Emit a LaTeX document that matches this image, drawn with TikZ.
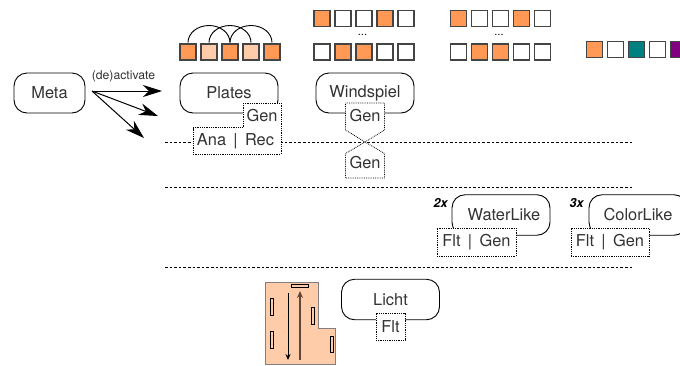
\documentclass[tikz,border=0pt]{standalone}
\usepackage{fontspec}
\setmainfont{TeX Gyre Heros}
\usetikzlibrary{arrows.meta,positioning}
\definecolor{orangeS}{HTML}{FF9955}
\definecolor{peachS}{HTML}{FFCCAA}
\definecolor{tealS}{HTML}{008080}
\definecolor{purpleS}{HTML}{800080}
\definecolor{inkT}{HTML}{333333}
\definecolor{edgeS}{HTML}{444444}
\definecolor{upS}{HTML}{664433}
\newcommand{\bodyfont}{\fontsize{16.4}{18}\selectfont}
\tikzset{
  cell/.style={draw=edgeS,line width=1.2pt,minimum size=16pt,inner sep=0pt,outer sep=0pt,fill=white},
  comp/.style={draw=black,line width=0.9pt,rounded corners=13pt,fill=white,minimum height=40pt,inner sep=0pt,outer sep=0pt,text=inkT,font=\bodyfont},
  label/.style={inner sep=0pt,text=inkT,font=\bodyfont},
  dotbox/.style={draw=black,densely dotted,line width=0.8pt,fill=white},
  sep/.style={draw=black,line width=0.8pt,dash pattern=on 2.6pt off 2pt},
  fire/.style={-{Stealth[length=19pt,width=12pt,inset=6pt]},line width=1pt,black},
  hop/.style={draw=black,line width=0.9pt},
  lamp/.style={draw=black,line width=0.7pt,fill=peachS},
  mult/.style={inner sep=0pt,font=\fontsize{12.5}{14}\selectfont\bfseries\itshape}
}
\begin{document}
\begin{tikzpicture}[x=1pt,y=-1pt]
\useasboundingbox (0,0) rectangle (680,365);
\clip (0,0) rectangle (680,365);

% separators
\coordinate (s1a) at (165,142.5); \coordinate (s1b) at (632,142.5);
\coordinate (s2a) at (165,187); \coordinate (s2b) at (632,187);
\coordinate (s3a) at (165,267); \coordinate (s3b) at (632,267);
\draw[sep] (s1a) -- (s1b);
\draw[sep] (s2a) -- (s2b);
\draw[sep] (s3a) -- (s3b);

% Plates cells
\foreach \i/\x/\c in {1/188/orangeS,2/209/peachS,3/230/orangeS,4/251/peachS,5/272/orangeS}
  \node[cell,fill=\c] (p\i) at (\x,52) {};
\draw[hop] ([yshift=1.5pt]p1.north) arc[start angle=180,end angle=0,x radius=21pt,y radius=17pt];
\draw[hop] ([yshift=1.5pt]p2.north) arc[start angle=180,end angle=0,x radius=21pt,y radius=17pt];
\draw[hop] ([yshift=1.5pt]p3.north) arc[start angle=180,end angle=0,x radius=21pt,y radius=17pt];

% Windspiel cells
\foreach \i/\x/\c in {1/322/orangeS,2/343/white,3/364/white,4/385/orangeS,5/406/white}
  \node[cell,fill=\c] (wa\i) at (\x,18.8) {};
\foreach \i/\x/\c in {1/322/white,2/343/orangeS,3/364/orangeS,4/385/white,5/406/white}
  \node[cell,fill=\c] (wb\i) at (\x,52) {};
\foreach \i/\x/\c in {1/458.5/orangeS,2/479.5/white,3/500.5/white,4/521.5/orangeS,5/542.5/white}
  \node[cell,fill=\c] (xa\i) at (\x,18.8) {};
\foreach \i/\x/\c in {1/458.5/white,2/479.5/orangeS,3/500.5/orangeS,4/521.5/white,5/542.5/white}
  \node[cell,fill=\c] (xb\i) at (\x,52) {};
\foreach \i/\x/\c in {1/594.5/orangeS,2/615.5/white,3/636.5/tealS,4/657.5/white,5/678.5/purpleS}
  \node[cell,fill=\c] (c\i) at (\x,49.5) {};
\node[inner sep=0pt,font=\fontsize{11}{11}\selectfont] (d1) at (362.5,35) {...};
\node[inner sep=0pt,font=\fontsize{11}{11}\selectfont] (d2) at (499,35) {...};

% Meta
\node[comp,minimum width=71pt] (meta) at (49.5,93) {Meta};
\coordinate (src) at (92,91);
\coordinate (t1) at (162,91);
\coordinate (t2) at (158,116);
\coordinate (t3) at (144,138);
\draw[fire] (src) -- (t1);
\draw[fire] (src) -- (t2);
\draw[fire] (src) -- (t3);
\node[inner sep=0pt,text=inkT,font=\fontsize{12.2}{14}\selectfont] (act) at (123.5,76) {(de)activate};

% Plates
\node[comp,minimum width=98pt] (plates) at (229,93) {Plates};
\draw[dotbox] (243,103) -- (281,103) -- (281,154) -- (193,154) -- (193,127.5) -- (243,127.5) -- cycle;
\node[label] (pgen) at (262,116) {Gen};
\node[label] (pana) at (235.5,141.5) {Ana \,|\, Rec};

% Windspiel
\node[comp,minimum width=98pt] (wind) at (365,93) {Windspiel};
\draw[dotbox] (345.5,103) -- (384.5,103) -- (384.5,130) -- (365,142) -- (345.5,130) -- cycle;
\draw[dotbox] (365,142) -- (384.5,153.5) -- (384.5,178) -- (345.5,178) -- (345.5,153.5) -- cycle;
\node[label] (wgen) at (365,116) {Gen};
\node[label] (wgen2) at (365,163) {Gen};

% WaterLike
\node[comp,minimum width=98pt,minimum height=40.5pt] (water) at (501,215) {\hspace*{6pt}WaterLike};
\node[dotbox,minimum width=79pt,minimum height=28pt,inner sep=0pt,text=inkT,font=\bodyfont] (wbox) at (476.5,242) {Flt \,|\, Gen};
\node[mult] (two) at (440.5,203) {2x};

% ColorLike
\node[comp,minimum width=98pt,minimum height=40.5pt] (color) at (638,215) {ColorLike};
\node[dotbox,minimum width=78pt,minimum height=28pt,inner sep=0pt,text=inkT,font=\bodyfont] (cbox) at (610,242) {Flt \,|\, Gen};
\node[mult] (three) at (576.5,203) {3x};

% Licht
\node[comp,minimum width=98pt,minimum height=40.5pt] (licht) at (390.5,299.5) {Licht};
\node[dotbox,minimum width=29pt,minimum height=27pt,inner sep=0pt,text=inkT,font=\bodyfont] (lbox) at (390.5,326.5) {Flt};

% floor plan
\draw[draw=gray,line width=1pt,fill=peachS] (265.5,282) -- (318,282) -- (318,328.5) -- (335,328.5) -- (335,364) -- (265.5,364) -- cycle;
\draw[lamp] (291,284) rectangle (308,287);
\draw[lamp] (270,298) rectangle (273,315);
\draw[lamp] (270,331) rectangle (273,348);
\draw[lamp] (311,307.5) rectangle (314,324.5);
\draw[lamp] (330,336) rectangle (333,352.5);
\coordinate (d0) at (288,293); \coordinate (d3) at (288,360);
\coordinate (u0) at (300,359.5); \coordinate (u3) at (300,291);
\draw[-{Stealth[length=6pt,width=5pt]},line width=0.8pt,black] (d0) -- (d3);
\draw[-{Stealth[length=7pt,width=6pt]},line width=1.1pt,draw=upS,fill=black] (u0) -- (u3);
\end{tikzpicture}
\end{document}
